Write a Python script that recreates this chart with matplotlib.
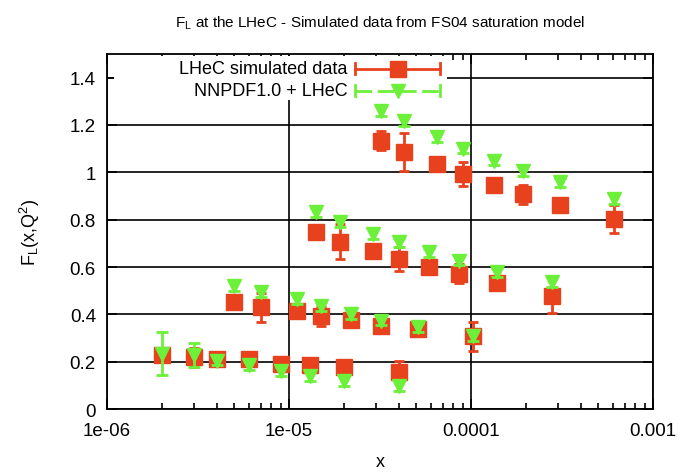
import matplotlib
matplotlib.use('Agg')
import matplotlib.pyplot as plt
from matplotlib.patches import Rectangle
from matplotlib.lines import Line2D
from matplotlib.ticker import LogLocator, FixedLocator, FixedFormatter

plt.rcParams['font.family'] = ['Liberation Sans', 'DejaVu Sans']

# four Q2 bins, simulated F_L data (red) and NNPDF1.0 + LHeC (green)
x_bin1 = [2.0e-6, 3.0e-6, 4.0e-6, 6.0e-6, 9.0e-6, 1.3e-5, 2.0e-5, 4.0e-5]
fl_bin1 = [0.229, 0.220, 0.212, 0.210, 0.190, 0.187, 0.177, 0.159]
err_bin1 = [0.025, 0.040, 0.020, 0.020, 0.020, 0.020, 0.020, 0.045]
nn_bin1 = [0.235, 0.230, 0.205, 0.185, 0.160, 0.140, 0.120, 0.098]
nnerr_bin1 = [0.090, 0.050, 0.020, 0.020, 0.020, 0.020, 0.020, 0.020]

x_bin2 = [5.0e-6, 7.0e-6, 1.1e-5, 1.5e-5, 2.2e-5, 3.2e-5, 5.1e-5, 1.02e-4]
fl_bin2 = [0.454, 0.430, 0.416, 0.395, 0.378, 0.353, 0.339, 0.308]
err_bin2 = [0.025, 0.062, 0.025, 0.042, 0.030, 0.030, 0.025, 0.062]
nn_bin2 = [0.521, 0.495, 0.465, 0.434, 0.402, 0.374, 0.346, 0.310]
nnerr_bin2 = [0.020, 0.020, 0.020, 0.020, 0.020, 0.020, 0.020, 0.020]

x_bin3 = [1.4e-5, 1.9e-5, 2.9e-5, 4.0e-5, 5.9e-5, 8.6e-5, 1.38e-4, 2.77e-4]
fl_bin3 = [0.746, 0.707, 0.669, 0.634, 0.599, 0.571, 0.533, 0.479]
err_bin3 = [0.025, 0.073, 0.025, 0.050, 0.025, 0.040, 0.025, 0.074]
nn_bin3 = [0.831, 0.789, 0.739, 0.704, 0.662, 0.627, 0.578, 0.536]
nnerr_bin3 = [0.020, 0.020, 0.020, 0.020, 0.020, 0.020, 0.020, 0.020]

x_bin4 = [3.2e-5, 4.3e-5, 6.5e-5, 9.0e-5, 1.34e-4, 1.92e-4, 3.08e-4, 6.13e-4]
fl_bin4 = [1.133, 1.087, 1.035, 0.992, 0.947, 0.908, 0.863, 0.803]
err_bin4 = [0.040, 0.081, 0.020, 0.050, 0.020, 0.040, 0.020, 0.061]
nn_bin4 = [1.259, 1.217, 1.150, 1.100, 1.049, 1.006, 0.957, 0.887]
nnerr_bin4 = [0.020, 0.020, 0.020, 0.020, 0.020, 0.020, 0.020, 0.020]

xticks = [1e-6, 1e-5, 1e-4, 1e-3]
xticklabels = ['1e-06', '1e-05', '0.0001', '0.001']
yticks = [0, 0.2, 0.4, 0.6, 0.8, 1.0, 1.2, 1.4]
yticklabels = ['0', '0.2', '0.4', '0.6', '0.8', '1', '1.2', '1.4']

red = '#E8411E'
green = '#6CF03A'

fig = plt.figure(figsize=(6.86, 4.77), dpi=100)
ax = fig.add_axes([0.156, 0.14, 0.796, 0.745])

bins = [
    (x_bin1, fl_bin1, err_bin1, nn_bin1, nnerr_bin1),
    (x_bin2, fl_bin2, err_bin2, nn_bin2, nnerr_bin2),
    (x_bin3, fl_bin3, err_bin3, nn_bin3, nnerr_bin3),
    (x_bin4, fl_bin4, err_bin4, nn_bin4, nnerr_bin4),
]
for xs, fl, er, nn, nne in bins:
    ax.errorbar(xs, fl, yerr=er, fmt='s', color=red, ms=11.5, elinewidth=2,
                capsize=3.5, capthick=2, zorder=3)
for xs, fl, er, nn, nne in bins:
    ax.errorbar(xs, nn, yerr=nne, fmt='v', color=green, ms=10, elinewidth=2,
                capsize=4, capthick=2, zorder=4)

ax.set_xscale('log')
ax.set_xlim(1e-6, 1e-3)
ax.set_ylim(0, 1.5)
ax.xaxis.set_major_locator(FixedLocator(xticks))
ax.xaxis.set_major_formatter(FixedFormatter(xticklabels))
ax.xaxis.set_minor_locator(LogLocator(base=10, subs=range(2, 10), numticks=20))
ax.set_yticks(yticks)
ax.set_yticklabels(yticklabels)
ax.tick_params(which='both', direction='in', top=True, right=True, width=1.2, labelsize=13.5)
ax.tick_params(which='major', length=7)
ax.tick_params(which='minor', length=4)
ax.tick_params(axis='x', pad=9)
ax.tick_params(axis='y', pad=8)
ax.grid(True, which='major', color='black', lw=1.2, zorder=1)
for s in ax.spines.values():
    s.set_linewidth(1.3)

ax.set_xlabel('x', fontsize=13, labelpad=10)
ax.set_ylabel(r'F$_\mathregular{L}$(x,Q$^\mathregular{2}$)', fontsize=13, labelpad=20)
ax.set_title(r'F$_\mathregular{L}$ at the LHeC - Simulated data from FS04 saturation model',
             fontsize=11, pad=20)

# gnuplot-like key: right-justified text followed by sample
ax.add_patch(Rectangle((0.012, 0.87), 0.61, 0.125, transform=ax.transAxes,
                       facecolor='white', edgecolor='none', zorder=2))
ax.text(0.44, 0.958, 'LHeC simulated data', transform=ax.transAxes, ha='right',
        va='center', fontsize=13, zorder=5)
ax.text(0.44, 0.896, 'NNPDF1.0 + LHeC', transform=ax.transAxes, ha='right',
        va='center', fontsize=13, zorder=5)
for yk, c, m, ms in [(0.958, red, 's', 11.5), (0.896, green, 'v', 10)]:
    ax.add_line(Line2D([0.455, 0.61], [yk, yk], transform=ax.transAxes, color=c,
                       lw=2, zorder=5, dashes=(6, 2) if c == green else (None, None)))
    ax.add_line(Line2D([0.532], [yk], transform=ax.transAxes, color=c, marker=m,
                       ms=ms, zorder=5))
    for xe in (0.455, 0.61):
        ax.add_line(Line2D([xe, xe], [yk - 0.015, yk + 0.015], transform=ax.transAxes,
                           color=c, lw=2, zorder=5))

fig.savefig('out.png', dpi=100)
